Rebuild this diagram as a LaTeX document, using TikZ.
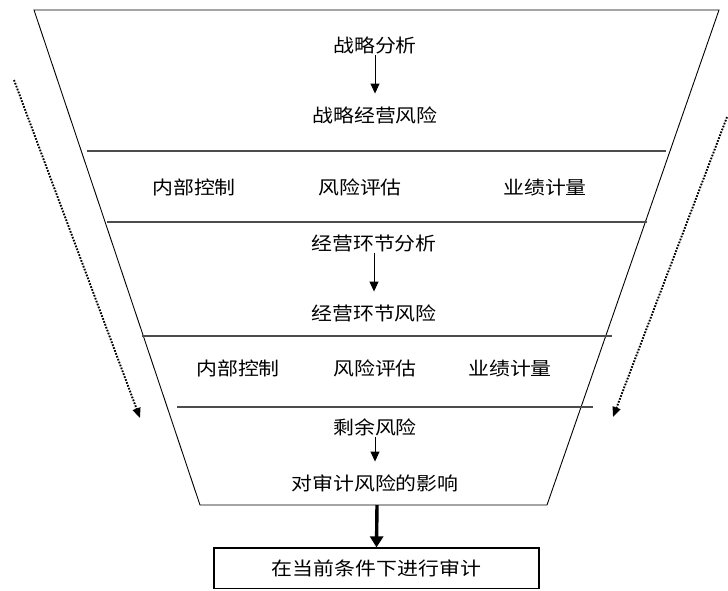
\documentclass[tikz,border=0pt]{standalone}
\usepackage{fontspec}
\setmainfont{Noto Sans CJK SC}[FakeStretch=1.13]
\usetikzlibrary{arrows.meta}
\begin{document}
\begin{tikzpicture}[x=1pt,y=-1pt,
  lbl/.style={font=\fontsize{18.5}{20}\selectfont, inner sep=1pt, text height=16.3pt, text depth=2.2pt},
  outline/.style={draw=black, line width=0.9pt},
  sepline/.style={draw=black!70, line width=1.6pt},
  thinarrow/.style={draw=black, line width=0.9pt, -{Triangle[length=10pt,width=9pt]}, shorten >=11pt},
  thickarrow/.style={draw=black, line width=3.4pt, -{Triangle[length=11pt,width=13pt]}},
  dotarrow/.style={draw=black, line width=1.9pt, dash pattern=on 1.7pt off 1.4pt, -{Triangle[length=10pt,width=8pt]}},
  boxstyle/.style={draw=black, line width=1.2pt, minimum width=325pt, minimum height=40.5pt, inner sep=0pt}
]
\useasboundingbox (0,0) rectangle (728,590);
\fill[white] (0,0) rectangle (728,590);

% funnel outline
\coordinate (tl) at (34,10);
\coordinate (tr) at (719,10);
\coordinate (br) at (547,505);
\coordinate (bl) at (200,505);
\draw[outline] (tl) -- (tr) -- (br) -- (bl) -- cycle;

% separator lines
\coordinate (s1a) at (87,151);  \coordinate (s1b) at (666,151);
\coordinate (s2a) at (107,222); \coordinate (s2b) at (647,222);
\coordinate (s3a) at (142,336); \coordinate (s3b) at (612,336);
\coordinate (s4a) at (177,407); \coordinate (s4b) at (593,407);
\draw[sepline] (s1a) -- (s1b);
\draw[sepline] (s2a) -- (s2b);
\draw[sepline] (s3a) -- (s3b);
\draw[sepline] (s4a) -- (s4b);

% texts
\node[lbl] (a1) at (375,45) {战略分析};
\node[lbl] (a2) at (375,115) {战略经营风险};
\node[lbl] (r1a) at (194,187) {内部控制};
\node[lbl] (r1b) at (360,187) {风险评估};
\node[lbl] (r1c) at (545,187) {业绩计量};
\node[lbl] (b1) at (374,243) {经营环节分析};
\node[lbl] (b2) at (374,313) {经营环节风险};
\node[lbl] (r2a) at (238,368) {内部控制};
\node[lbl] (r2b) at (375,368) {风险评估};
\node[lbl] (r2c) at (510,368) {业绩计量};
\node[lbl] (c1) at (375,427) {剩余风险};
\node[lbl] (c2) at (375,483) {对审计风险的影响};

\draw[thinarrow] (a1) -- (a2);
\draw[thinarrow] (b1) -- (b2);
\draw[thinarrow] (c1) -- (c2);

% bottom box
\node[boxstyle, lbl, minimum width=325pt, minimum height=40.5pt, inner sep=0pt] (box) at (376.5,568.25) {在当前条件下进行审计};
\coordinate (bot) at (377,505);
\draw[thickarrow] (bot) -- (box.north);

% dotted side arrows
\coordinate (l1) at (14,80);
\coordinate (l2) at (140,418);
\coordinate (q1) at (727,117);
\coordinate (q2) at (613,417);
\draw[dotarrow] (l1) -- (l2);
\draw[dotarrow] (q1) -- (q2);
\end{tikzpicture}
\end{document}
